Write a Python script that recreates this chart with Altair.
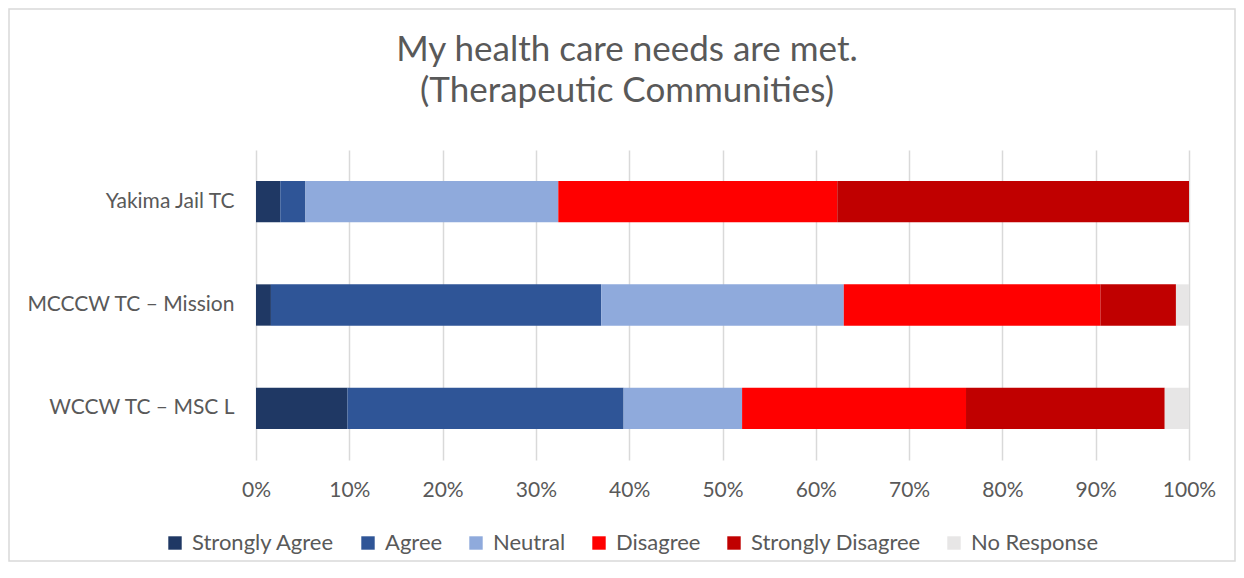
import altair as alt
import pandas as pd

title_lines = ["My health care needs are met.", "(Therapeutic Communities)"]
categories = ["Yakima Jail TC", "MCCCW TC – Mission", "WCCW TC – MSC L"]
responses = ["Strongly Agree", "Agree", "Neutral", "Disagree", "Strongly Disagree", "No Response"]
colors = ["#1F3864", "#2F5597", "#8FAADC", "#FF0000", "#C00000", "#E7E6E6"]

strongly_agree = [2.6, 1.6, 9.8]
agree = [2.7, 35.4, 29.6]
neutral = [27.1, 26.0, 12.7]
disagree = [29.9, 27.5, 24.0]
strongly_disagree = [37.7, 8.1, 21.3]
no_response = [0.0, 1.4, 2.6]

series = [strongly_agree, agree, neutral, disagree, strongly_disagree, no_response]
rows = []
for ri, (resp, vals) in enumerate(zip(responses, series)):
    for cat, v in zip(categories, vals):
        rows.append({"site": cat, "response": resp, "value": v / 100.0, "order": ri})
df = pd.DataFrame(rows)

FONT = "Lato"
GREY = "#595959"
FS = 21

bars = alt.Chart(df).mark_bar().encode(
    y=alt.Y("site:N", sort=categories, title=None,
            scale=alt.Scale(paddingInner=0.6, paddingOuter=0.3),
            axis=alt.Axis(domain=False, ticks=False, labelFontSize=FS, labelFont=FONT,
                          labelColor=GREY, labelPadding=22, labelLimit=400, grid=False)),
    x=alt.X("value:Q", stack="zero", title=None,
            scale=alt.Scale(domain=[0, 1], nice=False),
            axis=alt.Axis(format="%", values=[i / 10 for i in range(11)], domain=False, ticks=False,
                          labelFontSize=FS, labelFont=FONT, labelColor=GREY, labelPadding=19,
                          labelFlush=False, grid=True, gridColor="#D9D9D9", gridWidth=1.5)),
    color=alt.Color("response:N", sort=responses,
                    scale=alt.Scale(domain=responses, range=colors),
                    legend=alt.Legend(title=None, orient="none", direction="horizontal",
                                      legendX=-92, legendY=382, symbolType="square",
                                      symbolSize=180, symbolStrokeWidth=0,
                                      labelFontSize=22, labelFont=FONT, labelColor=GREY,
                                      labelLimit=400, columnPadding=22, labelOffset=6)),
    order=alt.Order("order:Q", sort="ascending"),
)

border = alt.Chart(pd.DataFrame({"a": [0]})).mark_rect(
    fill=None, stroke="#D9D9D9", strokeWidth=1.5
).encode(
    x=alt.value(-247), x2=alt.value(979), y=alt.value(-141), y2=alt.value(411)
)

title1 = alt.Chart(pd.DataFrame({"line": [title_lines[0]]})).mark_text(
    font=FONT, fontSize=35, color=GREY, align="center", baseline="alphabetic"
).encode(text="line:N", x=alt.value(371), y=alt.value(-89))
title2 = alt.Chart(pd.DataFrame({"line": [title_lines[1]]})).mark_text(
    font=FONT, fontSize=35, color=GREY, align="center", baseline="alphabetic"
).encode(text="line:N", x=alt.value(371), y=alt.value(-48))

chart = alt.layer(border, title1, title2, bars).properties(
    width=933, height=310,
    autosize=alt.AutoSizeParams(type="none"),
    padding={"left": 248, "top": 142, "right": 47, "bottom": 110},
).configure_view(stroke=None)

chart.save("out.html", embed_options={"renderer": "svg", "actions": False})
